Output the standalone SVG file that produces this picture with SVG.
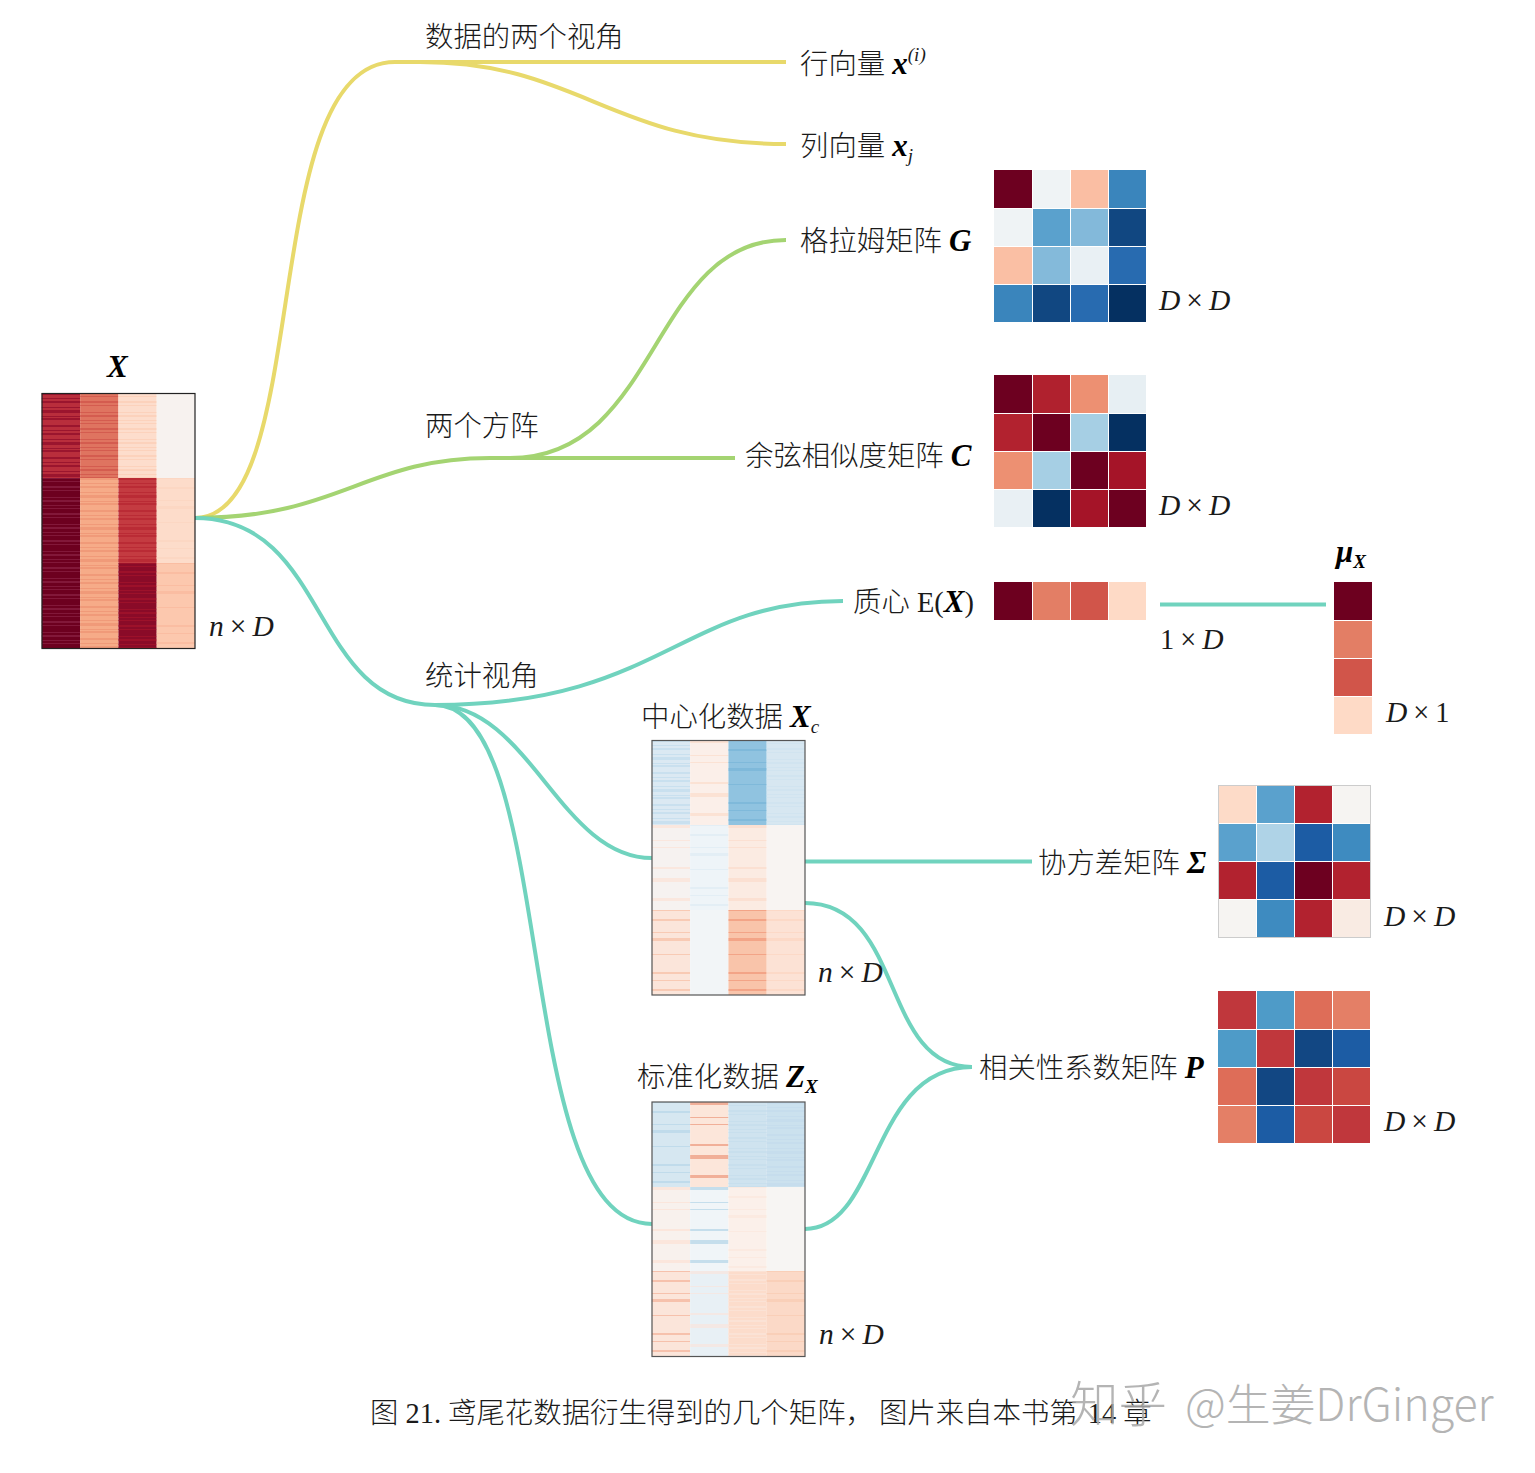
<svg xmlns="http://www.w3.org/2000/svg" width="1535" height="1473" viewBox="0 0 1535 1473">
<style>
text{font-family:"Liberation Serif","Noto Sans CJK SC",serif;font-size:28.4px;fill:#1a1a1a;font-weight:300}
.m{font-weight:700;font-style:italic;fill:#000;font-size:31px}
.i{font-style:italic;font-weight:400;font-size:29.500px}
.s{font-size:19px}
.f{fill:none;stroke-width:4;stroke-linecap:butt}
.y{stroke:#e8d96b}.g{stroke:#a4d472}.t{stroke:#70d3be}
.h{fill:none;stroke-width:38.3}
.d1{stroke-dasharray:2 3 1 2 2 4 1 2 3 3 1 1 2 5;stroke-opacity:.7}
.d2{stroke-dasharray:1 2 1 4 2 2 1 6 1 2 2 3;stroke-opacity:.7}
.d3{stroke-dasharray:1 8 2 11 1 5 3 13 1 17 2 6;stroke-opacity:.6}
.d4{stroke-dasharray:3 12 1 6 1 19 2 9 4 16;stroke-opacity:.6}
.b{fill:none;stroke:#555;stroke-width:1.2}
.k{stroke:#222}
.c{shape-rendering:crispEdges}
.w{font-family:"Noto Sans CJK SC","Noto Sans",sans-serif;fill:#a8a8a8;opacity:.85}
</style>
<defs>
<g id="lines" fill="none" stroke="#fff" stroke-width="1"><path d="M38 0V152M76 0V152M114 0V152M0 38H152M0 76H152M0 114H152"/></g>
</defs>
<g id="connectors">
<path class="f y" d="M195 518C315 518 255 62 395 62H786"/>
<path class="f y" d="M420 62C580 62 610 144 786 144"/>
<path class="f g" d="M195 518C340 518 365 458 490 458H735"/>
<path class="f g" d="M510 458C660 458 650 240 786 240"/>
<path class="f t" d="M195 518C330 518 310 705 435 705"/>
<path class="f t" d="M435 705C660 705 680 601 843 601"/>
<path class="f t" d="M435 705C530 705 560 858 652 858"/>
<path class="f t" d="M435 705C560 705 510 1224 652 1224"/>
<path class="f t" d="M805 861.500H1032"/>
<path class="f t" d="M805 903C905 903 880 1067 972 1067"/>
<path class="f t" d="M805 1229C880 1229 870 1067 972 1067"/>
<path class="f t" d="M1160 604.500H1326"/>
</g>
<g id="node-X">
<text class="m" x="107" y="377">X</text>
<path class="h" stroke="#b92e3c" d="M61 393V478"/><path class="h d1" stroke="#8f0c28" d="M61 393V478"/>
<path class="h" stroke="#6d001f" d="M61 478V648"/><path class="h d2" stroke="#8c2244" d="M61 478V648"/>
<path class="h" stroke="#df7460" d="M99.300 393V478"/><path class="h d2" stroke="#cf5349" d="M99.300 393V478"/>
<path class="h" stroke="#f6ab88" d="M99.300 478V648"/><path class="h d1" stroke="#ee9373" d="M99.300 478V648"/>
<path class="h" stroke="#fdddcc" d="M137.600 393V478"/><path class="h d2" stroke="#fbcdb5" d="M137.600 393V478"/>
<path class="h" stroke="#c43b41" d="M137.600 478V563"/><path class="h d1" stroke="#b62531" d="M137.600 478V563"/>
<path class="h" stroke="#8a0b28" d="M137.600 563V648"/><path class="h d2" stroke="#a5142b" d="M137.600 563V648"/>
<path class="h" stroke="#f7f2ef" d="M175.800 393V478"/>
<path class="h" stroke="#fddcca" d="M175.800 478V563"/><path class="h d3" stroke="#fbd3be" d="M175.800 478V563"/>
<path class="h" stroke="#fcc8ae" d="M175.800 563V648"/><path class="h d3" stroke="#f9b699" d="M175.800 563V648"/>
<rect class="b k" x="42" y="393.500" width="153" height="255"/>
<text class="i" x="209" y="636">n<tspan font-style="normal" dx="6">×</tspan><tspan dx="6">D</tspan></text>
</g>
<g id="label-two-views"><text x="425" y="47">数据的两个视角</text></g>
<g id="label-two-square"><text x="425" y="436">两个方阵</text></g>
<g id="label-stat"><text x="425" y="686">统计视角</text></g>
<g id="node-row"><text x="800" y="74">行向量 <tspan class="m">x</tspan><tspan class="i s" dy="-13">(i)</tspan></text></g>
<g id="node-col"><text x="800" y="156">列向量 <tspan class="m">x</tspan><tspan class="i s" dy="6">j</tspan></text></g>
<g id="node-G">
<text x="800" y="251">格拉姆矩阵 <tspan class="m">G</tspan></text>
<g class="c" transform="translate(994 170)">
<rect width="38" height="38" fill="#6d0020"/><rect x="38" width="38" height="38" fill="#eff3f5"/><rect x="76" width="38" height="38" fill="#fabea3"/><rect x="114" width="38" height="38" fill="#3a85bc"/>
<rect y="38" width="38" height="38" fill="#eff3f5"/><rect x="38" y="38" width="38" height="38" fill="#5aa1cd"/><rect x="76" y="38" width="38" height="38" fill="#83b9da"/><rect x="114" y="38" width="38" height="38" fill="#114781"/>
<rect y="76" width="38" height="38" fill="#fabfa4"/><rect x="38" y="76" width="38" height="38" fill="#84bada"/><rect x="76" y="76" width="38" height="38" fill="#e9f0f4"/><rect x="114" y="76" width="38" height="38" fill="#286bb0"/>
<rect y="114" width="38" height="38" fill="#3a85bc"/><rect x="38" y="114" width="38" height="38" fill="#114781"/><rect x="76" y="114" width="38" height="38" fill="#286bb0"/><rect x="114" y="114" width="38" height="38" fill="#053061"/>
<use href="#lines"/></g>
<text class="i" x="1159" y="310">D<tspan font-style="normal" dx="6">×</tspan><tspan dx="6">D</tspan></text>
</g>
<g id="node-C">
<text x="745" y="466">余弦相似度矩阵 <tspan class="m">C</tspan></text>
<g class="c" transform="translate(994 375)">
<rect width="38" height="38" fill="#6d0020"/><rect x="38" width="38" height="38" fill="#b0212e"/><rect x="76" width="38" height="38" fill="#ed9072"/><rect x="114" width="38" height="38" fill="#e7eff3"/>
<rect y="38" width="38" height="38" fill="#b2222f"/><rect x="38" y="38" width="38" height="38" fill="#6d0020"/><rect x="76" y="38" width="38" height="38" fill="#a6cfe4"/><rect x="114" y="38" width="38" height="38" fill="#053061"/>
<rect y="76" width="38" height="38" fill="#ed9072"/><rect x="38" y="76" width="38" height="38" fill="#a6cfe4"/><rect x="76" y="76" width="38" height="38" fill="#6d0020"/><rect x="114" y="76" width="38" height="38" fill="#a51428"/>
<rect y="114" width="38" height="38" fill="#e9f0f4"/><rect x="38" y="114" width="38" height="38" fill="#053061"/><rect x="76" y="114" width="38" height="38" fill="#a51428"/><rect x="114" y="114" width="38" height="38" fill="#6d0020"/>
<use href="#lines"/></g>
<text class="i" x="1159" y="515">D<tspan font-style="normal" dx="6">×</tspan><tspan dx="6">D</tspan></text>
</g>
<g id="node-centroid">
<text x="853" y="612">质心 E(<tspan class="m">X</tspan>)</text>
<g class="c" transform="translate(994 582)" stroke="#fff" stroke-width="1">
<rect width="38" height="38" fill="#6d001f" stroke="none"/><rect x="38" width="38" height="38" fill="#e37e65" stroke="none"/><rect x="76" width="38" height="38" fill="#d1554a" stroke="none"/><rect x="114" width="38" height="38" fill="#fedac6" stroke="none"/>
<path d="M38 0V38M76 0V38M114 0V38"/></g>
<text x="1160" y="649"><tspan font-style="normal">1</tspan><tspan dx="6">×</tspan><tspan class="i" dx="6">D</tspan></text>
</g>
<g id="node-mu">
<text class="m" x="1336" y="562">μ<tspan class="s" dy="6">X</tspan></text>
<g class="c" transform="translate(1334 582)" stroke="#fff" stroke-width="1">
<rect width="38" height="38" fill="#6d001f" stroke="none"/><rect y="38" width="38" height="38" fill="#e37e65" stroke="none"/><rect y="76" width="38" height="38" fill="#d1554a" stroke="none"/><rect y="114" width="38" height="38" fill="#fedac6" stroke="none"/>
<path d="M0 38H38M0 76H38M0 114H38"/></g>
<text x="1386" y="722"><tspan class="i">D</tspan><tspan dx="6">×</tspan><tspan dx="6">1</tspan></text>
</g>
<g id="node-Xc">
<text x="641" y="727">中心化数据 <tspan class="m">X</tspan><tspan class="i s" dy="6">c</tspan></text>
<path class="h" stroke="#dbe9f3" d="M671 740V825"/><path class="h d1" stroke="#c2dbec" d="M671 740V825"/>
<path class="h" stroke="#f6f2f0" d="M671 825V910"/><path class="h d4" stroke="#fde0d2" d="M671 825V910"/>
<path class="h" stroke="#fbe5da" d="M671 910V995"/><path class="h d3" stroke="#f6b79b" d="M671 910V995"/>
<path class="h" stroke="#fbefe9" d="M709.300 740V825"/><path class="h d4" stroke="#fbd8c6" d="M709.300 740V825"/>
<path class="h" stroke="#eef4f8" d="M709.300 825V910"/><path class="h d3" stroke="#dceaf3" d="M709.300 825V910"/>
<path class="h" stroke="#f2f5f7" d="M709.300 910V995"/>
<path class="h" stroke="#90c3e0" d="M747.600 740V825"/><path class="h d3" stroke="#74b2d6" d="M747.600 740V825"/>
<path class="h" stroke="#fbebe2" d="M747.600 825V910"/><path class="h d4" stroke="#fbd9c8" d="M747.600 825V910"/>
<path class="h" stroke="#f9c4aa" d="M747.600 910V995"/><path class="h d3" stroke="#ee8f6f" d="M747.600 910V995"/>
<path class="h" stroke="#d7e7f1" d="M785.800 740V825"/><path class="h d2" stroke="#cfe2ef" d="M785.800 740V825"/>
<path class="h" stroke="#f8f4f2" d="M785.800 825V910"/>
<path class="h" stroke="#fce2d5" d="M785.800 910V995"/><path class="h d3" stroke="#fbd3be" d="M785.800 910V995"/>
<rect class="b" x="652" y="740.500" width="153" height="254.500"/>
<text class="i" x="818" y="982">n<tspan font-style="normal" dx="6">×</tspan><tspan dx="6">D</tspan></text>
</g>
<g id="node-Zx">
<text x="637" y="1087">标准化数据 <tspan class="m">Z</tspan><tspan class="m s" dy="6">X</tspan></text>
<path class="h" stroke="#d6e7f1" d="M671 1102V1187"/><path class="h d3" stroke="#b0d3e7" d="M671 1102V1187"/>
<path class="h" stroke="#f8f1ed" d="M671 1187V1271"/><path class="h d4" stroke="#fde0d0" d="M671 1187V1271"/>
<path class="h" stroke="#fbe5da" d="M671 1271V1356"/><path class="h d3" stroke="#f4a98d" d="M671 1271V1356"/>
<path class="h" stroke="#fce6da" d="M709.300 1102V1187"/><path class="h d4" stroke="#e98a6c" d="M709.300 1102V1187"/>
<path class="h" stroke="#f0f5f8" d="M709.300 1187V1271"/><path class="h d4" stroke="#a8cfe4" d="M709.300 1187V1271"/>
<path class="h" stroke="#e8f0f5" d="M709.300 1271V1356"/><path class="h d4" stroke="#fbe3d8" d="M709.300 1271V1356"/>
<path class="h" stroke="#cfe3ef" d="M747.600 1102V1187"/><path class="h d2" stroke="#c5ddec" d="M747.600 1102V1187"/>
<path class="h" stroke="#fbf0ea" d="M747.600 1187V1271"/><path class="h d3" stroke="#fbe6db" d="M747.600 1187V1271"/>
<path class="h" stroke="#fcdccb" d="M747.600 1271V1356"/><path class="h d2" stroke="#fbe4d8" d="M747.600 1271V1356"/>
<path class="h" stroke="#cbe1ee" d="M785.800 1102V1187"/><path class="h d1" stroke="#c3dcec" d="M785.800 1102V1187"/>
<path class="h" stroke="#f7f5f3" d="M785.800 1187V1271"/>
<path class="h" stroke="#fbd9c7" d="M785.800 1271V1356"/><path class="h d3" stroke="#f9c8ae" d="M785.800 1271V1356"/>
<rect class="b" x="652" y="1102" width="153" height="254.500"/>
<text class="i" x="819" y="1344">n<tspan font-style="normal" dx="6">×</tspan><tspan dx="6">D</tspan></text>
</g>
<g id="node-Sigma">
<text x="1038" y="873">协方差矩阵 <tspan class="m">Σ</tspan></text>
<g class="c" transform="translate(1218 785.500)">
<rect width="38" height="38" fill="#fddbc8"/><rect x="38" width="38" height="38" fill="#5aa1cd"/><rect x="76" width="38" height="38" fill="#b2222f"/><rect x="114" width="38" height="38" fill="#f6f4f2"/>
<rect y="38" width="38" height="38" fill="#5aa1cd"/><rect x="38" y="38" width="38" height="38" fill="#afd3e7"/><rect x="76" y="38" width="38" height="38" fill="#1c5ca4"/><rect x="114" y="38" width="38" height="38" fill="#3e8bc0"/>
<rect y="76" width="38" height="38" fill="#b2222f"/><rect x="38" y="76" width="38" height="38" fill="#1c5ca4"/><rect x="76" y="76" width="38" height="38" fill="#6d0020"/><rect x="114" y="76" width="38" height="38" fill="#b2222f"/>
<rect y="114" width="38" height="38" fill="#f6f4f2"/><rect x="38" y="114" width="38" height="38" fill="#3e8bc0"/><rect x="76" y="114" width="38" height="38" fill="#b2222f"/><rect x="114" y="114" width="38" height="38" fill="#f9ebe3"/>
<use href="#lines"/><rect width="152" height="152" fill="none" stroke="#ccc"/></g>
<text class="i" x="1384" y="926">D<tspan font-style="normal" dx="6">×</tspan><tspan dx="6">D</tspan></text>
</g>
<g id="node-P">
<text x="979" y="1078">相关性系数矩阵 <tspan class="m">P</tspan></text>
<g class="c" transform="translate(1218 991)">
<rect width="38" height="38" fill="#c0373c"/><rect x="38" width="38" height="38" fill="#4e9bc8"/><rect x="76" width="38" height="38" fill="#de6d58"/><rect x="114" width="38" height="38" fill="#e47f66"/>
<rect y="38" width="38" height="38" fill="#4e9bc8"/><rect x="38" y="38" width="38" height="38" fill="#c0373c"/><rect x="76" y="38" width="38" height="38" fill="#124783"/><rect x="114" y="38" width="38" height="38" fill="#1c5ca4"/>
<rect y="76" width="38" height="38" fill="#de6d58"/><rect x="38" y="76" width="38" height="38" fill="#124783"/><rect x="76" y="76" width="38" height="38" fill="#c0373c"/><rect x="114" y="76" width="38" height="38" fill="#ca4741"/>
<rect y="114" width="38" height="38" fill="#e47f66"/><rect x="38" y="114" width="38" height="38" fill="#1c5ca4"/><rect x="76" y="114" width="38" height="38" fill="#ca4741"/><rect x="114" y="114" width="38" height="38" fill="#c0373c"/>
<use href="#lines"/></g>
<text class="i" x="1384" y="1131">D<tspan font-style="normal" dx="6">×</tspan><tspan dx="6">D</tspan></text>
</g>
<g id="caption"><text x="370" y="1423">图 21. 鸢尾花数据衍生得到的几个矩阵，<tspan dx="5">图片来自本书第</tspan><tspan dx="3"> 14 </tspan>章</text></g>
<g id="watermark"><text class="w" x="1070" y="1422" style="font-size:48.500px">知乎</text><text class="w" x="1185" y="1421" style="font-size:44.800px">@生姜DrGinger</text></g>
</svg>
